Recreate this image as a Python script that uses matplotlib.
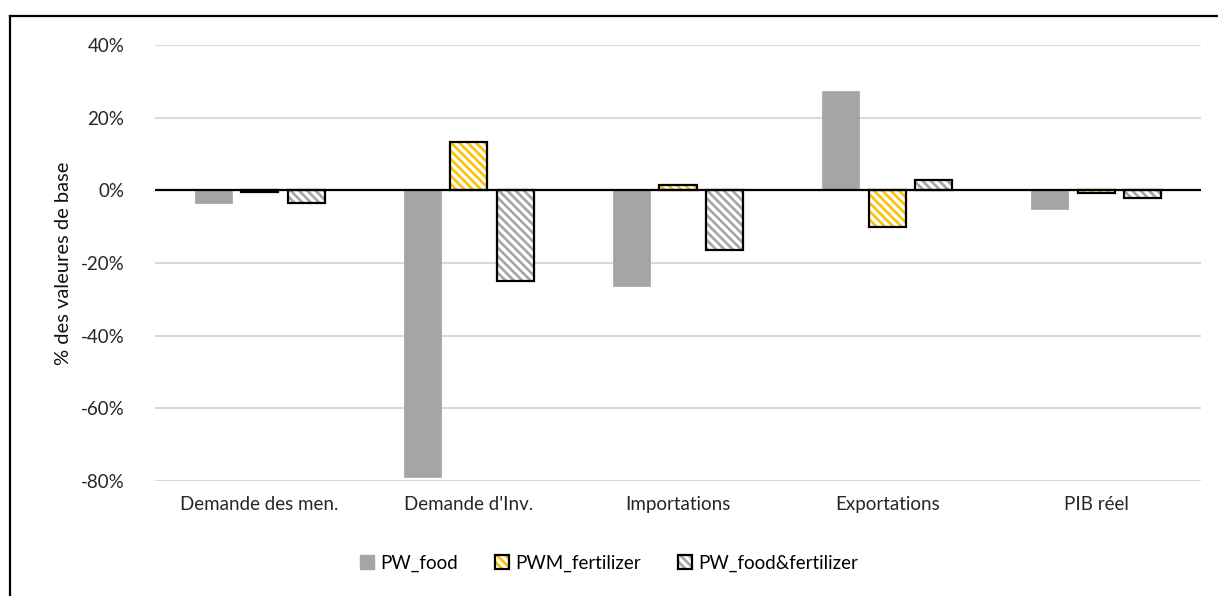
import matplotlib
matplotlib.use("Agg")
import matplotlib.pyplot as plt
import numpy as np
from matplotlib.patches import Patch
from matplotlib.legend_handler import HandlerTuple
from matplotlib.lines import Line2D

categories = ["Demande des men.", "Demande d'Inv.", "Importations", "Exportations", "PIB réel"]
series_names = ["PW_food", "PWM_fertilizer", "PW_food&fertilizer"]
pw_food = [-3.4, -79.0, -26.4, 27.3, -5.0]
pwm_fertilizer = [-0.5, 13.3, 1.5, -10.0, -0.7]
pw_food_fert = [-3.6, -25.0, -16.3, 2.8, -2.0]
yticks = [-80, -60, -40, -20, 0, 20, 40]
ytick_labels = ["-80%", "-60%", "-40%", "-20%", "0%", "20%", "40%"]

plt.rcParams['font.family'] = ['Lato', 'DejaVu Sans']
plt.rcParams['hatch.linewidth'] = 1.9

fig = plt.figure(figsize=(12.18, 5.96), dpi=100)
ax = fig.add_axes([155/1218, 1-480.7/596, (1201-155)/1218, (480.7-45.3)/596])

x = np.arange(len(categories))
w = 0.177
off = 0.222
gray = '#A5A5A5'
gold = '#FFC000'
hatch = '\\\\\\\\'
fs = 13.5

ax.bar(x - off, pw_food, w, color=gray, edgecolor=gray, linewidth=0.5, zorder=3)
ax.bar(x, pwm_fertilizer, w, facecolor='white', edgecolor=gold, hatch=hatch, linewidth=0, zorder=3)
ax.bar(x, pwm_fertilizer, w, fill=False, edgecolor='black', linewidth=1.6, zorder=4)
ax.bar(x + off, pw_food_fert, w, facecolor='white', edgecolor=gray, hatch=hatch, linewidth=0, zorder=3)
ax.bar(x + off, pw_food_fert, w, fill=False, edgecolor='black', linewidth=1.6, zorder=4)

ax.axhline(0, color='black', linewidth=1.6, zorder=5)
ax.set_ylim(-80, 40)
ax.set_xlim(-0.5, len(categories) - 0.5)
ax.set_yticks(yticks)
ax.set_yticklabels(ytick_labels, fontsize=fs, color='#262626')
ax.set_xticks(x)
ax.set_xticklabels(categories, fontsize=fs, color='#262626')
ax.tick_params(axis='both', length=0)
ax.tick_params(axis='y', pad=22)
ax.tick_params(axis='x', pad=11)
ax.grid(axis='y', color='#D9D9D9', linewidth=1.5, zorder=0)
ax.set_axisbelow(True)
for s in ax.spines.values():
    s.set_visible(False)
ax.set_ylabel("% des valeures de base", fontsize=14.5, color='#111111', labelpad=6)

h1 = Patch(facecolor=gray, edgecolor=gray)
h2 = (Patch(facecolor='white', edgecolor=gold, hatch=hatch, linewidth=0),
      Patch(fill=False, edgecolor='black', linewidth=1.6))
h3 = (Patch(facecolor='white', edgecolor=gray, hatch=hatch, linewidth=0),
      Patch(fill=False, edgecolor='black', linewidth=1.6))
fig.legend([h1, h2, h3], series_names, loc='center', bbox_to_anchor=(0.5, 1-563/596),
           ncol=3, frameon=False, fontsize=fs, handlelength=0.75, handleheight=0.75,
           handletextpad=0.3, columnspacing=2.0,
           handler_map={tuple: HandlerTuple(ndivide=1, pad=0)})

# figure border (top and left visible)
fig.add_artist(Line2D([10/1218, 10/1218], [0, 1-16/596], transform=fig.transFigure, color='black', linewidth=1.6))
fig.add_artist(Line2D([10/1218, 1], [1-16/596, 1-16/596], transform=fig.transFigure, color='black', linewidth=1.6))

fig.savefig("out.png", dpi=100)
